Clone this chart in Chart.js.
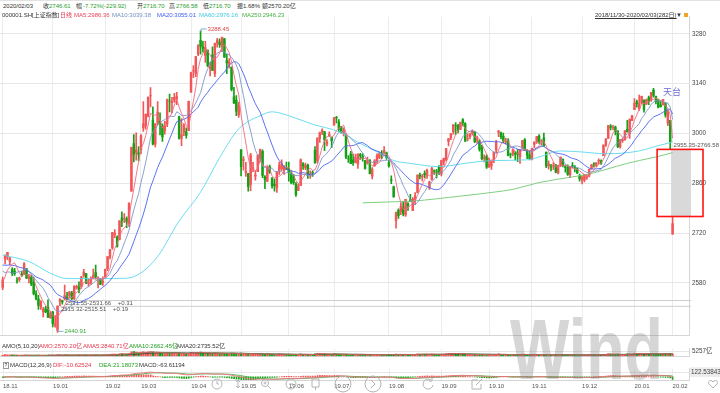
<!DOCTYPE html>
<html>
<head>
<meta charset="utf-8">
<title>上证指数 日线</title>
<script src="https://cdn.jsdelivr.net/npm/chart.js"></script>
<style>
  body {
    margin: 0;
    width: 720px;
    height: 393px;
    position: relative;
    overflow: hidden;
    background: #fff;
    font-family: 'Liberation Sans', 'Noto Sans CJK SC', sans-serif;
  }
  .pane { position: absolute; left: 0; width: 720px; }
  canvas { display: block; }
  .row {
    position: absolute;
    left: 0;
    width: 720px;
    height: 8px;
    font-size: 6px;
    line-height: 8px;
    color: #333;
    white-space: nowrap;
    z-index: 3;
  }
  .row span { position: absolute; top: 0; }
  .g { color: #1f9e1f; }
  .r { color: #e8344a; }
  .watermark {
    position: absolute;
    left: 510px;
    top: 306px;
    font: bold 86px/86px 'Liberation Sans', sans-serif;
    color: rgba(120, 120, 120, 0.3);
    transform: scaleX(0.73);
    transform-origin: 0 0;
    z-index: 4;
    pointer-events: none;
  }
  .tools { position: absolute; left: 0; top: 374px; z-index: 5; pointer-events: none; }
</style>
</head>
<body>

  <div class="row" style="top:2px">
    <span style="left:3px">2020/02/03</span>
    <span style="left:43px">收</span><span class="g" style="left:49px">2746.61</span>
    <span style="left:76px">幅</span><span class="g" style="left:83px">-7.72%(-229.92)</span>
    <span style="left:137px">开</span><span class="g" style="left:143px">2716.70</span>
    <span style="left:169px">高</span><span class="g" style="left:176px">2766.58</span>
    <span style="left:203px">低</span><span class="g" style="left:209px">2716.70</span>
    <span style="left:237px">振</span><span style="left:243px">1.68%</span>
    <span style="left:262px">额</span><span style="left:268px">2570.20亿</span>
  </div>
  <div style="position:absolute;left:0;top:0;width:720px;height:1px;background:#e2e2e2"></div>

  <div class="row" style="top:11px">
    <span style="left:2px">000001.SH</span>
    <span style="left:32px">[上证指数]</span>
    <span class="r" style="left:60px">日线</span>
    <span style="left:74px;color:#e8405a">MA5:2986.36</span>
    <span style="left:112px;color:#6f8fc0">MA10:3039.38</span>
    <span style="left:157px;color:#3d5cf5">MA20:3055.01</span>
    <span style="left:199px;color:#3cc8e0">MA60:2976.16</span>
    <span style="left:242px;color:#44b044">MA250:2946.23</span>
    <span style="left:595px;text-decoration:underline">2018/11/30-2020/02/03(282日)</span>
    <span style="left:676px">▼</span>
    <span style="left:684px;top:2px;width:4px;height:4px;background:#f3a32a"></span>
  </div>

  <div class="row" style="top:342px">
    <span style="left:2px">AMO(5,10,20)</span>
    <span class="r" style="left:39px">AMO:2570.20亿</span>
    <span class="r" style="left:83px">AMA5:2840.71亿</span>
    <span class="g" style="left:129px">AMA10:2662.45亿</span>
    <span style="left:176px">AMA20:2735.52亿</span>
  </div>

  <div class="row" style="top:361px">
    <span style="left:3px;top:1px;width:4px;height:5px;line-height:5px;font-size:5px;border:1px solid #999;text-align:center">?</span>
    <span style="left:10px">MACD(12,26,9)</span>
    <span class="r" style="left:53px">DIF:-10.62524</span>
    <span class="g" style="left:99px">DEA:21.18073</span>
    <span style="left:139px">MACD:-63.61194</span>
  </div>

  <div class="pane" style="top:10px;height:332px"><canvas id="price" width="720" height="332"></canvas></div>
  <div class="pane" style="top:342px;height:21px"><canvas id="amount" width="720" height="21"></canvas></div>
  <div class="pane" style="top:363px;height:30px"><canvas id="macd" width="720" height="30"></canvas></div>

  <div class="watermark">Wind</div>

  <!-- toolbar buttons floating over the time axis -->
  <svg class="tools" width="720" height="19" viewBox="0 0 720 19" fill="none" stroke="#b4b4b4" stroke-width="1">
    <circle cx="217" cy="10" r="5"/><path d="M217 7v3h2"/>
    <path d="M238 6v8M236 8l2-2 2 2M236 12l2 2 2-2"/>
    <circle cx="265" cy="9" r="3.5"/><path d="M268 12l3 3M263.5 9h3M265 7.5v3"/>
    <circle cx="291" cy="10" r="5"/><path d="M289 10h4"/>
    <path d="M312 5h7v8h-7zM315.5 13v3"/>
    <circle cx="343" cy="10" r="8"/>
    <circle cx="373" cy="10" r="8"/><path d="M371 6l4 4-4 4"/>
    <path d="M432 7a5 5 0 1 0 1 4M432 4v3h-3"/>
    <path d="M472 6h6M472 6v9h9v-5M476 11l6-6"/>
    <path d="M713 8c-2-3-6-1-4 2l4 4 4-4c2-3-2-5-4-2z"/>
  </svg>

<script>
// ---- data: 上证指数 daily, 2018/11/30 - 2020/02/03 (282 trading days) ----
const monthStarts = [0, 21, 43, 58, 79, 100, 120, 139, 162, 184, 204, 222, 243, 265, 281];
const monthLabels = ['18.11', '19.01', '19.02', '19.03', '19.04', '19.05', '19.06', '19.07',
                     '19.08', '19.09', '19.10', '19.11', '19.12', '20.01', '20.02'];
const priceTicks = [2580, 2720, 2860, 3000, 3140, 3280];

// closes of Nov 2018, only used to warm up the moving averages / MACD
const preCloses = [2606.24, 2676.48, 2665.43, 2659.36, 2641.34, 2635.63, 2598.87, 2630.52, 2654.88, 2632.24,
                   2668.17, 2679.11, 2703.51, 2645.85, 2651.51, 2645.43, 2579.48, 2575.81, 2574.68, 2601.74, 2567.44];

const opens = [
  2567,
  2647,2652,2640,2618,2613,2586,2589,2605,2605,2620,2592,2596,2582,2549,2534,2512,2498,2507,2511,2482,
  2497,2461,2446,2528,2530,2535,2540,2544,2551,2536,2567,2567,2570,2600,2606,2577,2582,2594,2609,2593,2589,2581,
  2597,2620,2652,2678,2716,2709,2702,2763,2761,2760,2748,2838,2972,2947,2946,
  2954,3016,3022,3049,3106,3038,2970,3030,3034,3022,3008,3026,3091,3087,3094,3097,3047,2986,3004,3005,3008,
  3116,3175,3169,3223,3262,3244,3219,3234,3184,3221,3168,3255,3257,3245,3266,3205,3196,3187,3103,3094,3052,
  2954,2924,2890,2887,2857,2902,2880,2893,2929,2950,2878,2865,2906,2875,2858,2847,2894,2901,2896,2902,
  2902,2887,2882,2858,2840,2853,2915,2903,2911,2883,2891,2953,2924,2986,3004,3005,2970,2994,2990,
  3024,3045,3032,3019,3000,2997,2929,2943,2925,2918,2914,2941,2936,2924,2917,2926,2880,2909,2922,2932,2942,2946,2946,
  2918,2870,2850,2755,2784,2780,2795,2771,2802,2815,2783,2813,2834,2883,2878,2888,2883,2847,2870,2896,2892,2905,
  2886,2920,2927,2978,2988,3005,3022,3022,3012,3039,3028,2985,2991,3000,3005,2982,2979,2960,2930,2936,
  2905,2909,2923,2953,3003,3002,2992,2976,2980,2941,2943,2944,2945,2935,2958,2983,2951,2940,
  2927,2969,2977,2993,2978,2988,2948,2909,2906,2908,2910,2889,2911,2927,2906,2905,2884,2910,2907,2901,2880,
  2870,2869,2876,2881,2902,2915,2910,2922,2923,2938,2967,2986,3021,3017,3018,3007,2963,2980,2982,3012,3000,3036,
  3067,3089,3070,3086,3094,3083,3101,3095,3122,3104,3094,3081,3081,3085,3029,3037,
  2716.70
];
const highs = [
  2596,
  2659,2666,2652,2623,2621,2595,2596,2613,2637,2620,2603,2601,2596,2558,2545,2530,2511,2514,2532,2499,
  2500,2488,2515.32,2536,2531.55,2574,2553,2556,2556,2572,2574,2583,2598,2618,2607,2591,2597,2619,2630,2597,2593,2597,
  2619,2654,2674,2722,2730,2712,2755,2780,2775,2766,2805,2962,2997,3002,2963,
  2997,3090,3055,3103,3129,3075,3028,3090,3058,3027,3034,3097,3111,3102,3113,3116,3049,3042,3028,3016,3091,
  3173,3191,3217,3250,3288.45,3259,3259,3235,3200,3244,3254,3268,3266,3271,3268,3223,3211,3187,3130,3107,3088,
  2955,2935,2919,2888,2944,2919,2895,2941,2956,2954,2882,2906,2911,2876,2872,2893,2920,2926,2910,2920,
  2920,2896,2885,2862,2858,2929,2918,2917,2914,2895,2895,2963,2988,3004,3013,3006,2983,3005,2990,
  3045,3048,3039,3020,3016,2997,2938,2950,2942,2942,2943,2944,2943,2924,2934,2926,2904,2927,2943,2947,2952,2963,2948,
  2925,2881,2852,2779,2788,2805,2808,2815,2806,2829,2820,2834,2884,2889,2885,2895,2900,2866,2905,2898,2899,2910,
  2925,2931,2958,2986,3000,3025,3031,3026,3032,3042,3031,2999,3000,3010,3005,2993,2982,2967,2940,2940,
  2931,2926,2948,2981,3008,3004,3001,2987,2986,2945,2956,2950,2955,2955,2981,2986,2955,2950,
  2959,2977,2992,2997,2983,3001,2948,2923,2913,2918,2913,2911,2934,2929,2911,2912,2907,2918,2910,2903,2886,
  2881,2885,2885,2900,2913,2918,2918,2929,2926,2968,2986,3023,3025,3023,3021,3008,2983,2987,3008,3037,3041,3051,
  3098,3094,3108,3105,3095,3097,3105,3116,3127,3105,3097,3092,3096,3087,3065,3037,
  2766.58
];
const lows = [
  2561,
  2633,2645,2631,2600,2601,2579,2584,2598,2603,2592,2580,2572,2546,2532,2505,2505,2484,2496,2483,2480,
  2456,2455,2440.91,2515.51,2520,2531.66,2533,2537,2533,2533,2562,2552,2564,2596,2578,2570,2575,2591,2591,2566,2575,2573,
  2596,2614,2647,2674,2707,2680,2701,2738,2749,2735,2738,2838,2920,2925,2923,
  2943,3006,3012,3047,3075,2968,2962,3024,2996,2978,2998,3019,3061,3058,3088,3081,2984,2966,2994,2987,3008,
  3116,3157,3160,3219,3223,3229,3200,3188,3162,3177,3160,3243,3242,3230,3214,3168,3184,3120,3084,3050,3045,
  2881,2897,2879,2838,2839,2893,2869,2893,2920,2876,2845,2865,2888,2846,2838,2834,2885,2896,2885,2898,
  2866,2858,2857,2823,2839,2853,2899,2898,2874,2874,2879,2916,2917,2975,2997,2952,2965,2992,2960,
  3023,3030,3006,3001,2993,2929,2919,2915,2910,2917,2902,2927,2922,2900,2914,2886,2872,2909,2916,2929,2929,2943,2927,
  2905,2859,2821,2733.92,2761,2772,2768,2767,2784,2808,2783,2800,2833,2872,2867,2875,2874,2843,2869,2885,2875,2884,
  2881,2912,2923,2965,2983,2998,2997,3002,3011,3021,2978,2979,2985,2995,2974,2973,2950,2926,2920,2902,
  2905,2899,2918,2945,2991,2985,2974,2970,2937,2931,2937,2926,2921,2916,2958,2953,2929,2926,
  2926,2960,2972,2972,2967,2964,2904,2900,2895,2898,2889,2886,2907,2906,2891,2882,2876,2903,2892,2887,2866,
  2858,2864,2871,2878,2900,2905,2907,2915,2913,2938,2964,2986,3010,3010,2996,2960,2959,2975,2981,3004,2986,3036,
  3067,3074,3065,3084,3060,3081,3081,3090,3102,3083,3072,3074,3080,3046,3022,2955.35,
  2716.70
];
const closes = [
  2588.19,
  2654.80,2665.96,2649.81,2605.18,2605.89,2584.58,2594.09,2602.15,2634.05,2593.74,2597.97,2576.65,2549.56,2536.27,2516.25,2527.01,2504.82,2498.29,2483.09,2493.90,
  2465.29,2464.36,2514.87,2533.09,2526.46,2544.34,2535.10,2553.83,2535.77,2570.34,2570.42,2559.64,2596.01,2610.51,2579.70,2581.00,2591.69,2601.72,2596.98,2594.25,2575.58,2584.57,
  2618.23,2653.90,2671.89,2721.07,2719.70,2682.39,2754.36,2755.65,2761.22,2751.80,2804.23,2961.28,2941.52,2953.82,2940.95,
  2994.01,3027.58,3054.25,3102.10,3106.42,2969.86,3026.99,3060.31,3026.95,2990.69,3021.75,3096.42,3090.98,3090.64,3101.46,3104.15,2987.12,2997.10,3022.72,2994.94,3090.76,
  3170.36,3176.82,3216.30,3246.57,3244.81,3239.66,3241.93,3189.96,3188.63,3177.79,3253.60,3263.12,3250.20,3270.80,3215.04,3198.59,3201.61,3123.83,3086.40,3062.50,3078.34,
  2906.46,2926.39,2893.76,2850.95,2939.21,2903.71,2883.61,2938.68,2955.71,2882.30,2870.60,2905.97,2891.70,2852.52,2852.99,2892.38,2909.91,2914.70,2905.81,2898.70,
  2890.08,2862.28,2861.42,2827.80,2852.13,2925.72,2909.38,2910.74,2881.97,2887.62,2890.16,2917.80,2987.12,3001.98,3008.15,2982.07,2976.28,2996.79,2978.88,
  3044.90,3043.94,3015.26,3005.25,3011.06,2933.36,2928.23,2915.30,2917.76,2930.55,2942.19,2937.62,2931.69,2901.95,2924.20,2886.97,2899.94,2923.28,2937.36,2944.54,2941.01,2952.34,2932.51,
  2908.77,2867.84,2821.50,2777.56,2768.68,2794.55,2774.75,2814.99,2797.26,2808.91,2815.80,2823.82,2883.10,2880.33,2880.00,2883.44,2897.43,2863.57,2902.19,2893.76,2890.92,2886.24,
  2924.11,2930.15,2957.41,2985.86,2999.60,3024.74,3021.20,3008.81,3031.24,3030.75,2978.12,2985.66,2999.28,3006.45,2977.08,2985.34,2955.43,2929.09,2932.17,2905.19,
  2913.57,2924.86,2947.71,2973.66,3007.88,2991.05,2978.71,2977.33,2938.14,2939.62,2954.38,2941.62,2940.92,2954.93,2980.05,2954.18,2939.32,2929.06,
  2958.20,2975.49,2991.56,2978.60,2978.71,2964.18,2909.20,2914.82,2905.24,2909.87,2891.34,2909.20,2933.99,2911.05,2903.64,2885.29,2906.17,2907.06,2903.19,2889.69,2871.98,
  2875.81,2884.70,2878.12,2899.47,2912.01,2914.48,2917.32,2924.42,2915.70,2967.68,2984.39,3022.42,3017.04,3017.07,3004.94,2962.75,2982.68,2981.88,3007.35,3005.04,3040.02,3050.12,
  3085.20,3083.79,3083.41,3104.80,3066.89,3094.88,3092.29,3115.57,3106.82,3090.04,3074.08,3075.50,3095.79,3052.14,3060.75,2976.53,
  2746.61
];
// turnover, 亿元
const amount = [
  1300,
  1790,1600,1450,1450,1150,1050,1020,1100,1300,1150,1050,1100,1050,1050,1250,1030,1120,1080,1050,1100,
  1000,1030,1500,1500,1150,1450,1250,1200,1000,1250,1230,1180,1350,1400,1280,1150,1200,1250,1400,1300,1150,1200,
  1400,1700,1800,2400,2350,2100,2800,3100,2600,2500,2800,4870,5257,4600,3600,
  4100,5100,4300,4900,5200,4600,3700,4400,3800,3300,3000,3800,3700,3300,3500,3400,3700,3000,2900,2700,3400,
  4300,4200,4100,4500,4600,3800,3400,3600,3300,3300,3900,3500,3000,3200,3200,3300,2900,3600,3300,2700,2300,
  3500,2700,2400,2600,3100,2400,2300,2500,2600,2800,2200,2400,2100,2100,1900,2200,2600,2300,2200,1900,
  2000,1900,1800,1900,1800,2600,2200,2000,1900,1700,1700,2700,3200,3300,2800,2600,2200,2200,2100,
  3000,2500,2200,1900,1800,2200,1800,1700,1800,1700,1800,1700,1600,1800,1900,2000,1700,1800,1900,1800,1700,1800,1800,
  1900,2000,2200,2500,1900,2000,1800,2000,1800,1900,1900,1800,2700,2500,2300,2300,2300,2200,2300,2100,2000,2000,
  2200,2300,2700,3200,3200,3300,3100,2600,2600,2700,2400,2100,2000,2000,2000,1800,1900,2000,1700,1600,
  1600,1700,1900,2100,2600,2100,1900,1700,1800,1500,1600,1600,1800,1800,2300,2100,1800,1700,
  1800,1900,2200,1900,1700,1700,1900,1600,1500,1500,1400,1500,1700,1600,1500,1500,1600,1600,1500,1400,1300,
  1400,1400,1400,1600,1700,1800,1600,1600,1500,2100,2200,2900,2600,2300,2100,2300,1800,1700,2200,2800,2600,2300,
  3200,3100,3400,2600,2800,2700,2700,3000,3100,2600,2400,2300,2700,2900,2500,3100,
  2570.20
];

// MA60 / MA250 (they need history before the window)
const ma60Idx = [0, 11, 20, 27, 41, 52, 58, 65, 74, 83, 91, 99, 108, 113, 120, 130, 141, 150, 158, 164, 171, 183, 196, 206, 220, 225, 234, 243, 253, 267, 274, 281];
const ma60Val = [2658, 2640, 2607, 2592, 2592, 2593, 2608, 2654, 2754, 2835, 2932, 3013, 3050, 3061, 3050, 3026, 3005, 2972, 2945, 2924, 2916, 2907, 2918, 2924, 2926, 2934, 2951, 2948, 2943, 2951, 2964, 2976.16];
const ma250Idx = [151, 164, 172, 192, 206, 214, 225, 239, 246, 253, 262, 267, 274, 281];
const ma250Val = [2805, 2808, 2810, 2824, 2835, 2843, 2862, 2878, 2886, 2899, 2916, 2924, 2934, 2946.23];

// unfilled gaps: first day after the gap, previous extreme, current extreme
const gapFrom = [24, 26, 281];
const gapPrev = [2515.32, 2531.55, 2955.35];
const gapCur = [2515.51, 2531.66, 2766.58];
const gapNote = ['+0.19', '+0.31', ''];

// ---- helpers ----
const UP = '#f25656', DOWN = '#14a014';
const X_MIN = -1.13, X_MAX = 287.88;
const FONT = "'Liberation Sans','Noto Sans CJK SC',sans-serif";

Chart.defaults.font.family = FONT;
Chart.defaults.animation = false;
Chart.defaults.responsive = false;
Chart.defaults.plugins.legend.display = false;
Chart.defaults.plugins.tooltip.enabled = false;

const allCloses = preCloses.concat(closes);
function movingAvg(n) {
  return closes.map((c, i) => {
    const k = i + preCloses.length;
    if (k - n + 1 < 0) return { x: i, y: null };
    let s = 0;
    for (let j = k - n + 1; j <= k; j++) s += allCloses[j];
    return { x: i, y: s / n };
  });
}
function amountAvg(n) {
  return amount.map((v, i) => {
    if (i - n + 1 < 0) return { x: i, y: null };
    let s = 0;
    for (let j = i - n + 1; j <= i; j++) s += amount[j];
    return { x: i, y: s / n };
  });
}

const isUp = closes.map((c, i) => c >= opens[i]);
const candleColors = isUp.map(u => u ? UP : DOWN);

// MACD(12,26,9)
const dif = [], dea = [], hist = [];
let e12 = allCloses[0], e26 = allCloses[0], d = 0;
allCloses.forEach((c, k) => {
  e12 = e12 * 11 / 13 + c * 2 / 13;
  e26 = e26 * 25 / 27 + c * 2 / 27;
  const df = e12 - e26;
  d = d * 8 / 10 + df * 2 / 10;
  const i = k - preCloses.length;
  if (i >= 0) {
    dif.push({ x: i, y: df });
    dea.push({ x: i, y: d });
    hist.push({ x: i, y: 2 * (df - d) });
  }
});

function xAxis(withLabels) {
  return {
    type: 'linear',
    min: X_MIN,
    max: X_MAX,
    offset: false,
    afterBuildTicks: s => { s.ticks = monthStarts.map(v => ({ value: v })); },
    afterFit: s => { s.height = withLabels ? 13 : 0; },
    grid: { color: '#ececec', drawTicks: false, offset: false },
    border: { color: '#d6d6d6' },
    ticks: withLabels
      ? { autoSkip: false, maxRotation: 0, minRotation: 0, align: 'start', padding: 3,
          color: '#555', font: { size: 6 }, callback: (v, idx) => monthLabels[idx] }
      : { display: false }
  };
}
function yAxis(min, max, ticks, fmt, extra) {
  return Object.assign({
    position: 'right',
    min: min,
    max: max,
    afterBuildTicks: s => { s.ticks = ticks.map(v => ({ value: v })); },
    afterFit: s => { s.width = 31; },
    grid: { color: '#e6e6e6', drawTicks: false },
    border: { color: '#d6d6d6' },
    ticks: { padding: 3, color: '#444', font: { size: 6.3 }, callback: fmt }
  }, extra || {});
}

// annotations on the price pane
const priceMarks = {
  id: 'priceMarks',
  beforeDatasetsDraw(chart) {
    const { ctx, chartArea: a, scales: { x, y } } = chart;
    ctx.save();
    gapFrom.forEach((g, k) => {
      const big = Math.abs(gapPrev[k] - gapCur[k]) > 5;
      const x0 = x.getPixelForValue(g) - (big ? 1.5 : 0);
      const yTop = y.getPixelForValue(Math.max(gapPrev[k], gapCur[k]));
      const yBot = y.getPixelForValue(Math.min(gapPrev[k], gapCur[k]));
      ctx.fillStyle = big ? '#d9d9d9' : '#cdcdcd';
      ctx.fillRect(x0, yTop, a.right + 2 - x0, Math.max(1, yBot - yTop));
    });
    ctx.restore();
  },
  afterDatasetsDraw(chart) {
    const { ctx, chartArea: a, scales: { x, y } } = chart;
    ctx.save();
    ctx.font = '6px ' + FONT;
    ctx.textAlign = 'left';

    // gap labels
    gapFrom.forEach((g, k) => {
      const big = Math.abs(gapPrev[k] - gapCur[k]) > 5;
      const px = x.getPixelForValue(g) + 1;
      ctx.fillStyle = '#555';
      if (big) {
        ctx.textBaseline = 'bottom';
        ctx.fillText(gapPrev[k].toFixed(2) + '-' + gapCur[k].toFixed(2), px, y.getPixelForValue(gapPrev[k]) - 1);
      } else {
        ctx.textBaseline = 'top';
        ctx.fillText(gapPrev[k].toFixed(2) + '-' + gapCur[k].toFixed(2) + '    ' + gapNote[k], px, y.getPixelForValue(gapPrev[k]) + 0.5);
      }
    });

    // highest high / lowest low markers
    const hi = highs.indexOf(Math.max(...highs));
    const lo = lows.indexOf(Math.min(...lows));
    [[hi, highs[hi], -2, '#e04848'], [lo, lows[lo], -1, '#35a535']].forEach(([i, v, dy, col]) => {
      const px = x.getPixelForValue(i), py = y.getPixelForValue(v) + dy;
      ctx.strokeStyle = '#7fb2cf';
      ctx.lineWidth = 1;
      ctx.beginPath();
      ctx.moveTo(px + 0.5, py + (dy < -1 ? 3 : -2));
      ctx.lineTo(px + 0.5, py);
      ctx.lineTo(px + 6, py);
      ctx.stroke();
      ctx.fillStyle = col;
      ctx.textBaseline = 'middle';
      ctx.fillText(v.toFixed(2), px + 7, py);
    });

    // hand-drawn highlight around the last gap
    const k = gapFrom.length - 1;
    const rx = x.getPixelForValue(274.5);
    const ry0 = y.getPixelForValue(gapPrev[k]);
    const ry1 = y.getPixelForValue(gapCur[k]);
    ctx.strokeStyle = '#ff1414';
    ctx.lineWidth = 1.6;
    ctx.strokeRect(rx, ry0, a.right + 14 - rx, ry1 - ry0);

    // note
    ctx.font = '9px "Noto Sans CJK SC", sans-serif';
    ctx.fillStyle = '#6d6dd2';
    ctx.textBaseline = 'middle';
    ctx.fillText('天台', x.getPixelForValue(277), y.getPixelForValue(3118));
    ctx.restore();
  }
};

const line = (data, color, extra) => Object.assign({
  type: 'line', data: data, borderColor: color, borderWidth: 0.9,
  pointRadius: 0, fill: false, order: 0
}, extra || {});

// ---- price pane ----
new Chart(document.getElementById('price'), {
  type: 'bar',
  data: {
    datasets: [
      { data: lows.map((l, i) => ({ x: i, y: [l, highs[i]] })), backgroundColor: candleColors,
        barThickness: 1, grouped: false, order: 2 },
      { data: opens.map((o, i) => ({ x: i, y: [o, closes[i]] })), backgroundColor: candleColors,
        barThickness: 1.8, grouped: false, order: 1 },
      line(movingAvg(5), '#f06a82'),
      line(movingAvg(10), '#7d97c9'),
      line(movingAvg(20), '#4a62f2'),
      line(ma60Idx.map((v, j) => ({ x: v, y: ma60Val[j] })), '#5ad8ec', { cubicInterpolationMode: 'monotone' }),
      line(ma250Idx.map((v, j) => ({ x: v, y: ma250Val[j] })), '#72c872', { cubicInterpolationMode: 'monotone' })
    ]
  },
  options: {
    maintainAspectRatio: false,
    layout: { padding: 0 },
    scales: {
      x: xAxis(false),
      y: yAxis(2432.7, 3328.3, priceTicks, v => String(v))
    }
  },
  plugins: [priceMarks]
});

// ---- turnover pane ----
new Chart(document.getElementById('amount'), {
  type: 'bar',
  data: {
    datasets: [
      { data: amount.map((v, i) => ({ x: i, y: v })), backgroundColor: candleColors,
        barThickness: 1.6, grouped: false, order: 1 },
      line(amountAvg(5), '#e8566a', { borderWidth: 0.8 }),
      line(amountAvg(10), '#3aa53a', { borderWidth: 0.8 }),
      line(amountAvg(20), '#333333', { borderWidth: 0.8 })
    ]
  },
  options: {
    maintainAspectRatio: false,
    layout: { padding: 0 },
    scales: {
      x: xAxis(false),
      y: yAxis(0, 8492, [5257], v => v + '亿')
    }
  }
});

// ---- MACD pane ----
new Chart(document.getElementById('macd'), {
  type: 'bar',
  data: {
    datasets: [
      { data: hist, backgroundColor: hist.map(p => p.y >= 0 ? UP : DOWN),
        barThickness: 1, grouped: false, order: 1 },
      line(dif, '#f07080', { borderWidth: 0.9 }),
      line(dea, '#46b446', { borderWidth: 0.9 })
    ]
  },
  options: {
    maintainAspectRatio: false,
    layout: { padding: 0 },
    scales: {
      x: xAxis(true),
      y: yAxis(-80, 206.9, [122.53843], v => '122.53843',
        { ticks: { padding: 2, color: '#444', font: { size: 6.3 }, callback: () => '122.53843',
                   showLabelBackdrop: true, backdropColor: '#ececec', backdropPadding: 1 } })
    }
  }
});
</script>
</body>
</html>
